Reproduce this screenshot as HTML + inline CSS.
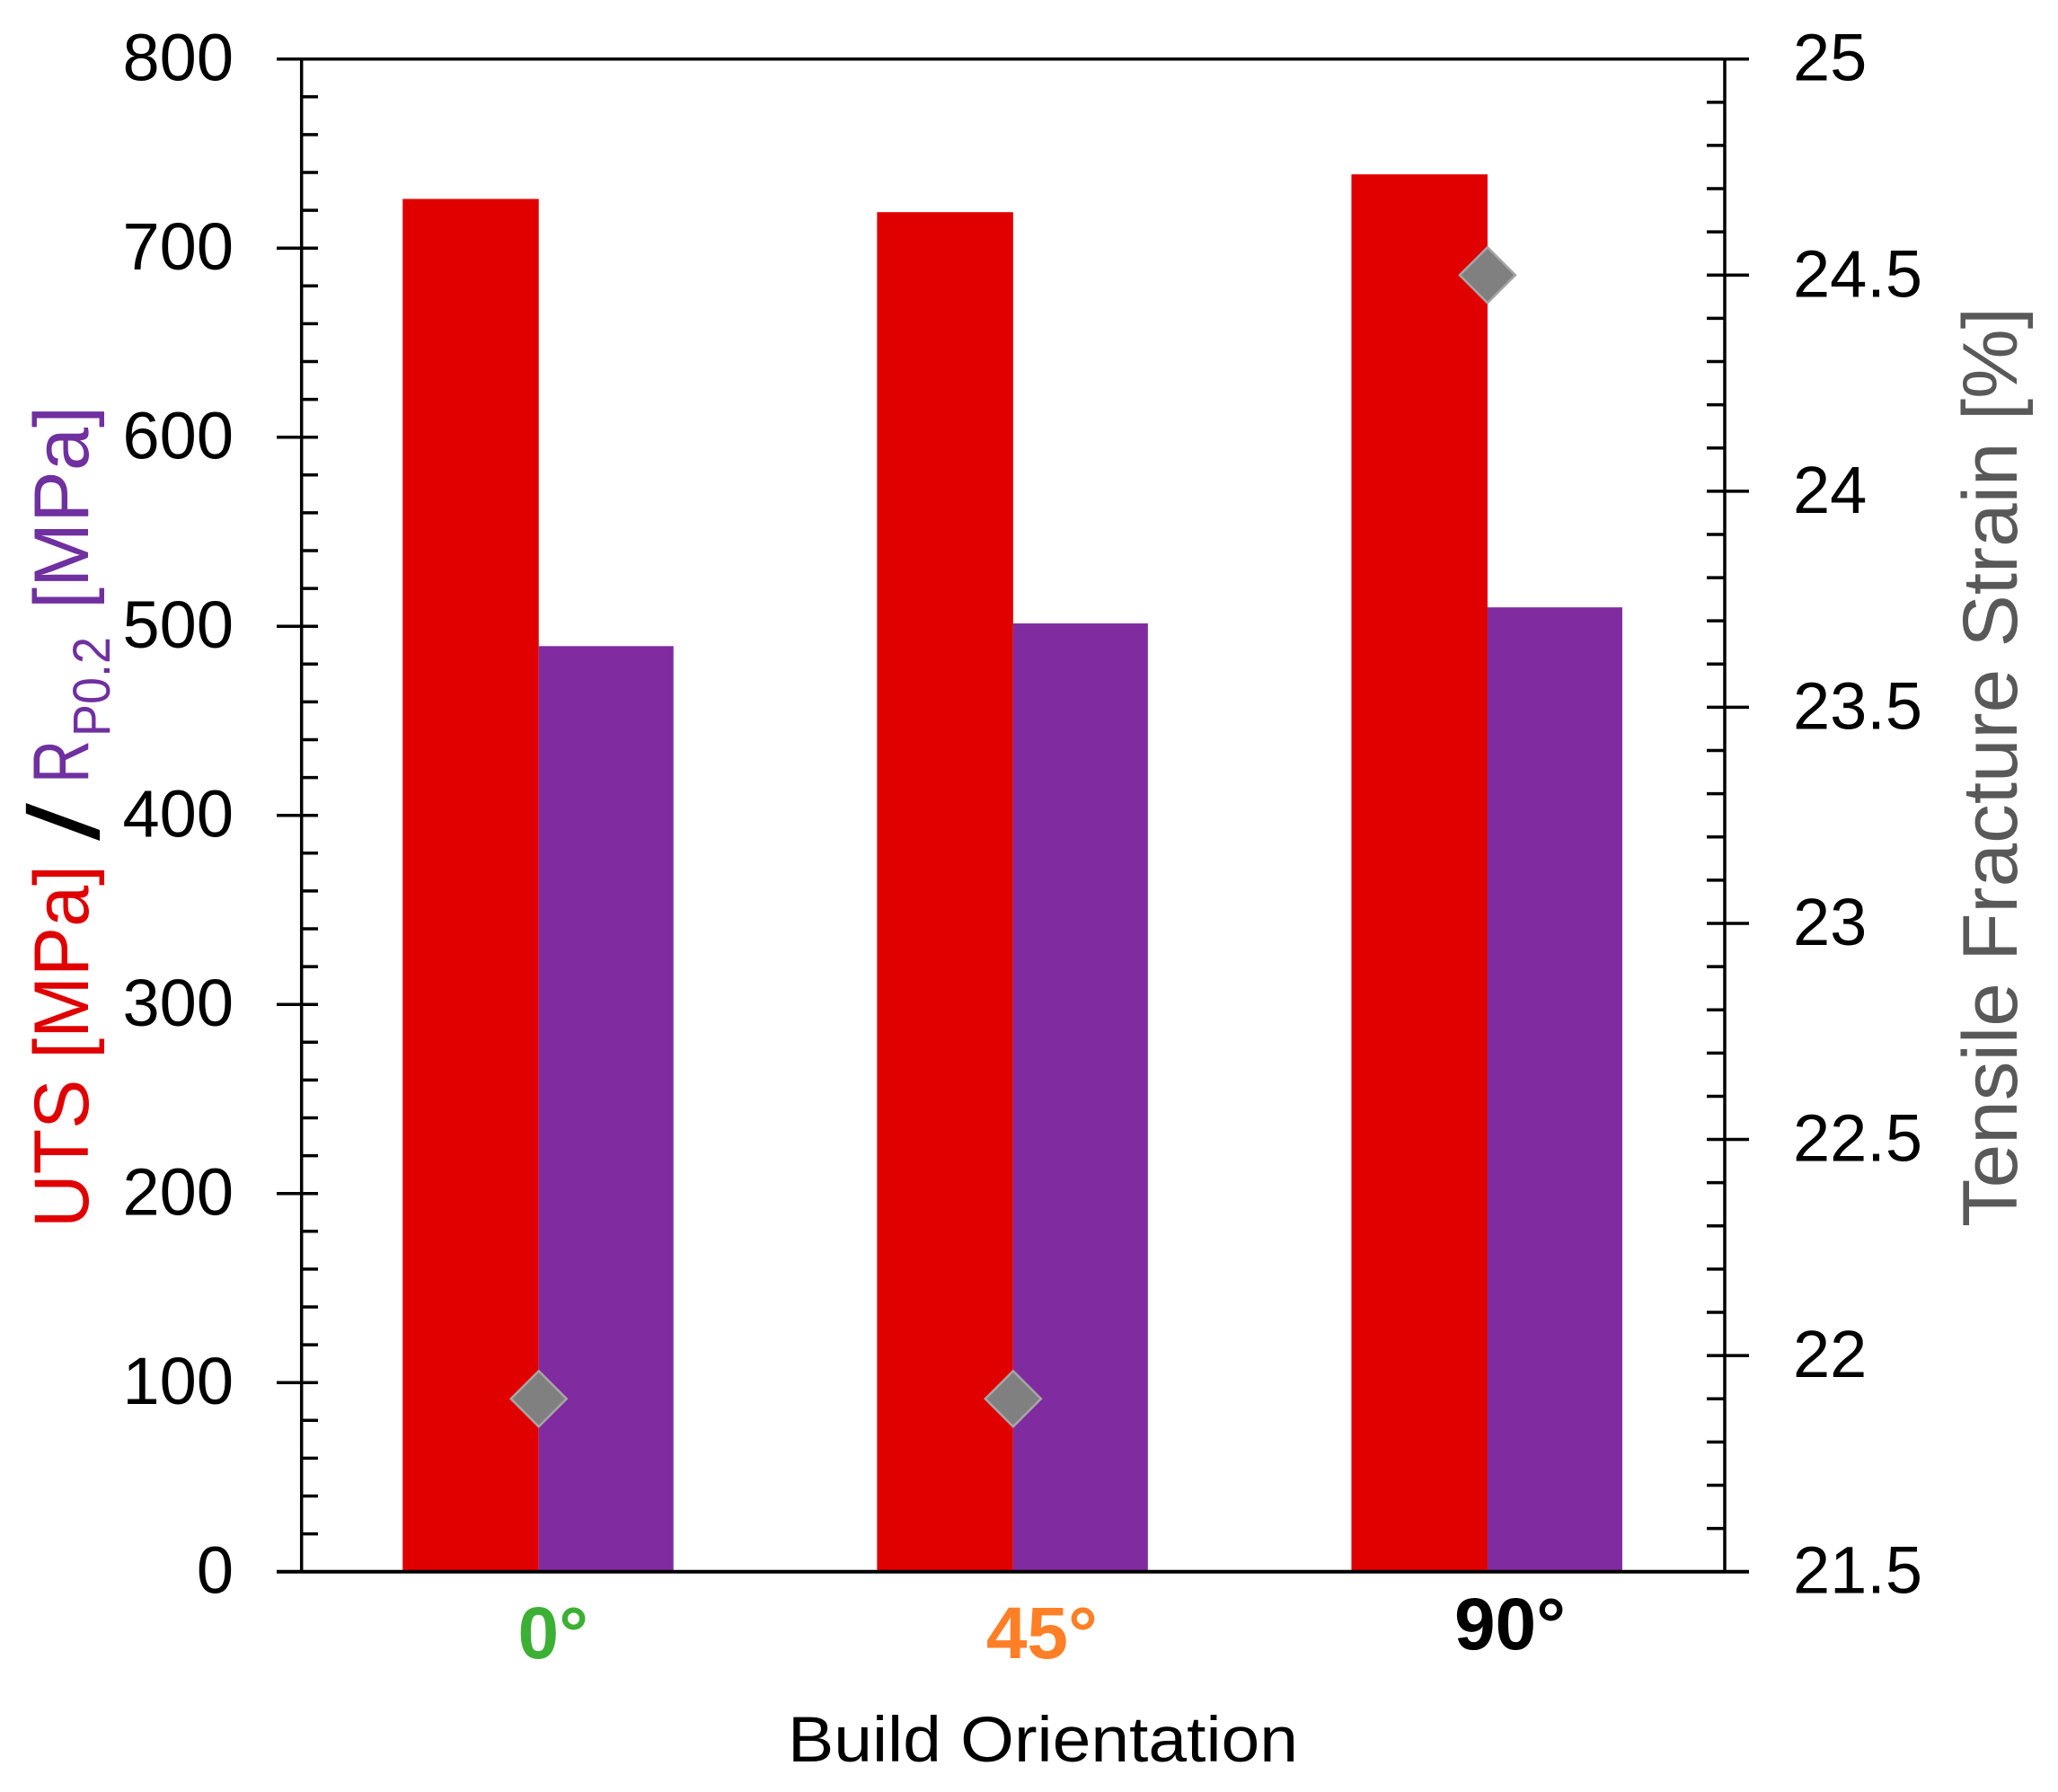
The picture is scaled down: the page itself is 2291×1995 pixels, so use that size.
<!DOCTYPE html>
<html lang="en">
<head>
<meta charset="utf-8">
<title>Tensile properties by build orientation</title>
<style>
  html, body { margin: 0; padding: 0; background: #fff; }
  svg { display: block; }
  text { font-family: "Liberation Sans", "DejaVu Sans", sans-serif; }
  .tick-label { font-size: 74px; fill: #000; }
  .cat-label { font-size: 82px; font-weight: 700; text-anchor: middle; }
  .cat-0 { fill: #3cb034; transform: translate(16px, 0); }
  .cat-1 { fill: #ff7f27; transform: translate(32px, 0); }
  .cat-2 { fill: #000; transform: translate(25px, -10px); }
</style>
</head>
<body>
<svg id="chart" xmlns="http://www.w3.org/2000/svg" width="2291" height="1995" viewBox="0 0 2291 1995">
  <rect x="0" y="0" width="2291" height="1995" fill="#ffffff"/>
  <g id="bars"></g>
  <g id="axes"></g>
  <g id="markers"></g>
  <g id="labels"></g>

  <text transform="translate(98,1367) rotate(-90)" font-size="86" fill="#e00000" textLength="404" lengthAdjust="spacingAndGlyphs">UTS [MPa]</text>
  <text transform="translate(110,936) rotate(-90)" font-size="112" fill="#000000" textLength="42" lengthAdjust="spacingAndGlyphs">/</text>
  <text transform="translate(98,872) rotate(-90)" font-size="88" fill="#7030a0" textLength="48" lengthAdjust="spacingAndGlyphs">R</text>
  <text transform="translate(122,820) rotate(-90)" font-size="58" fill="#7030a0" textLength="111" lengthAdjust="spacingAndGlyphs">P0.2</text>
  <text transform="translate(98,678) rotate(-90)" font-size="86" fill="#7030a0" textLength="226" lengthAdjust="spacingAndGlyphs">[MPa]</text>
  <text transform="translate(2245,1366) rotate(-90)" font-size="86" fill="#595959" textLength="1024" lengthAdjust="spacingAndGlyphs">Tensile Fracture Strain [%]</text>
  <text x="877" y="1961" font-size="71" fill="#000000" textLength="568" lengthAdjust="spacingAndGlyphs">Build Orientation</text>
</svg>
<script>
const categories = ['0°', '45°', '90°'];
const utsValues = [726, 719, 739];
const rp02Values = [489.5, 501.5, 510];
const strainValues = [21.9, 21.9, 24.5];
const leftTickLabels = ['0', '100', '200', '300', '400', '500', '600', '700', '800'];
const rightTickLabels = ['21.5', '22', '22.5', '23', '23.5', '24', '24.5', '25'];

const NS = 'http://www.w3.org/2000/svg';
const plot = { left: 335.7, right: 1920, top: 65.7, bottom: 1749.7 };
const leftDomain = [0, 800];
const rightDomain = [21.5, 25];

function yLeft(v) {
  return plot.bottom - (v - leftDomain[0]) / (leftDomain[1] - leftDomain[0]) * (plot.bottom - plot.top);
}
function yRight(v) {
  return plot.bottom - (v - rightDomain[0]) / (rightDomain[1] - rightDomain[0]) * (plot.bottom - plot.top);
}
function xCenter(i) {
  return plot.left + (i + 0.5) * (plot.right - plot.left) / categories.length;
}
function make(tag, parent, attrs) {
  const el = document.createElementNS(NS, tag);
  for (const k in attrs) el.setAttribute(k, attrs[k]);
  parent.appendChild(el);
  return el;
}

const barsG = document.getElementById('bars');
const axesG = document.getElementById('axes');
const markersG = document.getElementById('markers');
const labelsG = document.getElementById('labels');
const barWidth = 151.5;

categories.forEach(function (cat, i) {
  const cx = xCenter(i);
  const uts = make('rect', barsG, { x: cx - barWidth, y: yLeft(utsValues[i]), width: barWidth, height: plot.bottom - yLeft(utsValues[i]), fill: '#e00000' });
  
  
  const rp = make('rect', barsG, { x: cx, y: yLeft(rp02Values[i]), width: barWidth - 1.5, height: plot.bottom - yLeft(rp02Values[i]), fill: '#802b9f' });
  
  

  const my = yRight(strainValues[i]);
  const r = 31;
  const d = make('polygon', markersG, { points: [cx, my - r, cx + r, my, cx, my + r, cx - r, my].join(' '), fill: '#808080', stroke: '#a6a6a6', 'stroke-width': 2.5 });
  
  

  const t = make('text', labelsG, { x: cx, y: 1846, class: 'cat-label cat-' + i });
  t.textContent = cat;
  
  
});

function axisLine(name, x1, y1, x2, y2, w) {
  const l = make('line', axesG, { x1: x1, y1: y1, x2: x2, y2: y2, stroke: '#000', 'stroke-width': w });
  
  
}
axisLine('left-axis-line', plot.left, plot.top, plot.left, plot.bottom, 3.5);
axisLine('right-axis-line', plot.right, plot.top, plot.right, plot.bottom, 3.5);
axisLine('top-axis-line', 308, plot.top, 1947, plot.top, 3.5);
axisLine('x-axis-line', 308, plot.bottom, 1947, plot.bottom, 4);

const leftMinorPerMajor = 5;
const leftTickCount = (leftTickLabels.length - 1) * leftMinorPerMajor;
for (let i = 1; i < leftTickCount; i++) {
  const v = leftDomain[0] + (leftDomain[1] - leftDomain[0]) * i / leftTickCount;
  const major = i % leftMinorPerMajor === 0;
  axisLine('left-tick-' + i, major ? 308 : plot.left, yLeft(v), 354, yLeft(v), 3.5);
}
const rightMinorPerMajor = 5;
const rightTickCount = (rightTickLabels.length - 1) * rightMinorPerMajor;
for (let i = 1; i < rightTickCount; i++) {
  const v = rightDomain[0] + (rightDomain[1] - rightDomain[0]) * i / rightTickCount;
  const major = i % rightMinorPerMajor === 0;
  axisLine('right-tick-' + i, 1900, yRight(v), major ? 1947 : plot.right, yRight(v), 3.5);
}

leftTickLabels.forEach(function (lab) {
  const t = make('text', labelsG, { x: 260, y: yLeft(Number(lab)) + 24, class: 'tick-label', 'text-anchor': 'end' });
  t.textContent = lab;
  
  
});
rightTickLabels.forEach(function (lab) {
  const t = make('text', labelsG, { x: 1996, y: yRight(Number(lab)) + 24, class: 'tick-label' });
  t.textContent = lab;
  
  
});
</script>
</body>
</html>
